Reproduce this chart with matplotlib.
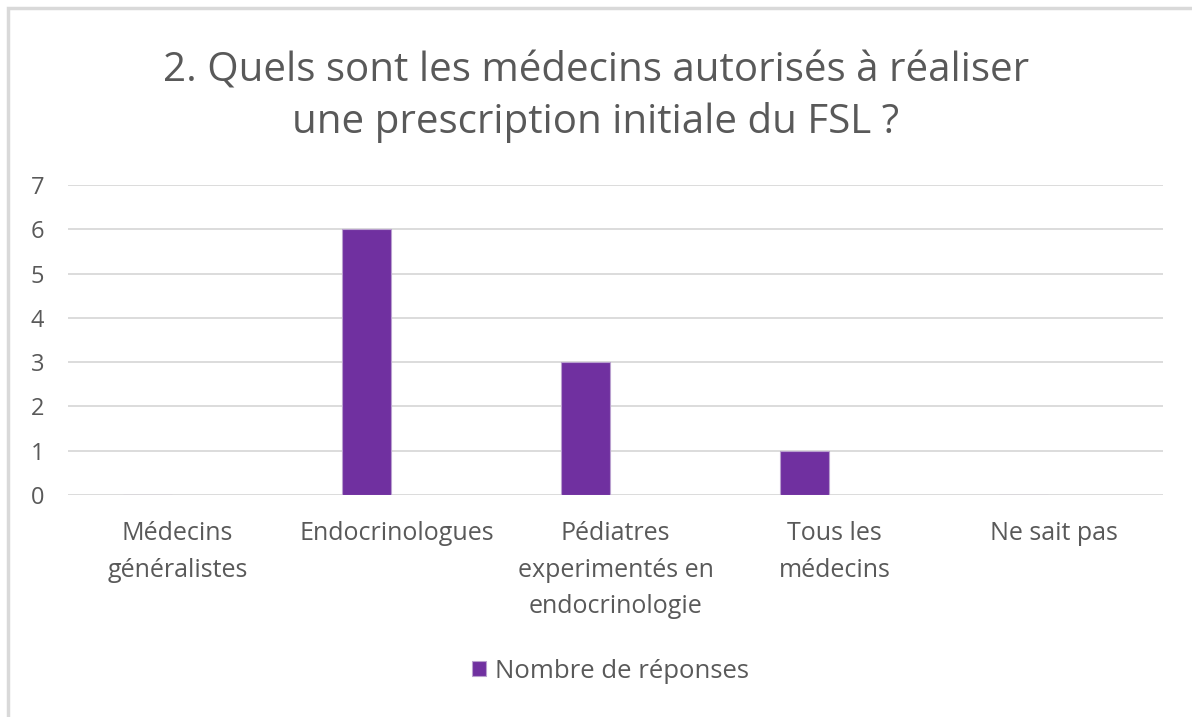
import matplotlib.pyplot as plt
from matplotlib.patches import Rectangle
import numpy as np

# --- Données ---
categories = ["Médecins\ngénéralistes", "Endocrinologues",
              "Pédiatres\nexperimentés en\nendocrinologie",
              "Tous les\nmédecins", "Ne sait pas"]
reponses = [0, 6, 3, 1, 0]
titre = "2. Quels sont les médecins autorisés à réaliser\nune prescription initiale du FSL ?"
serie = "Nombre de réponses"

violet = "#7030A0"
gris_texte = "#595959"
gris_grille = "#D9D9D9"

plt.rcParams['font.family'] = ['Open Sans', 'DejaVu Sans']

fig = plt.figure(figsize=(11.92, 7.17), dpi=100)
ax = fig.add_axes([68 / 1192, 1 - 495 / 717, 1095 / 1192, 310 / 717])

# cadre extérieur (bords gauche et haut seulement visibles)
fig.patches.append(Rectangle((8 / 1192, -0.1), 1.2, 1 - 8 / 717 + 0.1,
                             transform=fig.transFigure, fill=False,
                             edgecolor="#D9D9D9", linewidth=2.5))

x = np.arange(len(categories))
ax.bar(x - 0.137, reponses, width=0.228, color=violet,
       edgecolor="#B9A0CF", linewidth=0.8, label=serie, zorder=3)

ax.set_xlim(-0.5, len(categories) - 0.5)
ax.set_ylim(0, 7)
ax.set_yticks(range(8))
ax.yaxis.grid(True, color=gris_grille, linewidth=1.3, zorder=0)
ax.set_axisbelow(True)
for s in ax.spines.values():
    s.set_visible(False)
ax.tick_params(length=0, colors=gris_texte)
ax.tick_params(axis="y", pad=17, labelsize=17)
ax.set_xticks(x)
ax.set_xticklabels(categories, va="top", linespacing=1.6)
ax.tick_params(axis="x", pad=19, labelsize=18)

fig.text(0.5, 1 - 97 / 717, titre, ha="center", va="center",
         fontsize=29, color=gris_texte, linespacing=1.36)

fig.legend(loc="center", bbox_to_anchor=(0.512, 1 - 671 / 717),
           frameon=False, fontsize=18.5, labelcolor=gris_texte,
           handlelength=0.55, handleheight=0.55, handletextpad=0.35)

fig.savefig("out.png", dpi=100, facecolor="white")
